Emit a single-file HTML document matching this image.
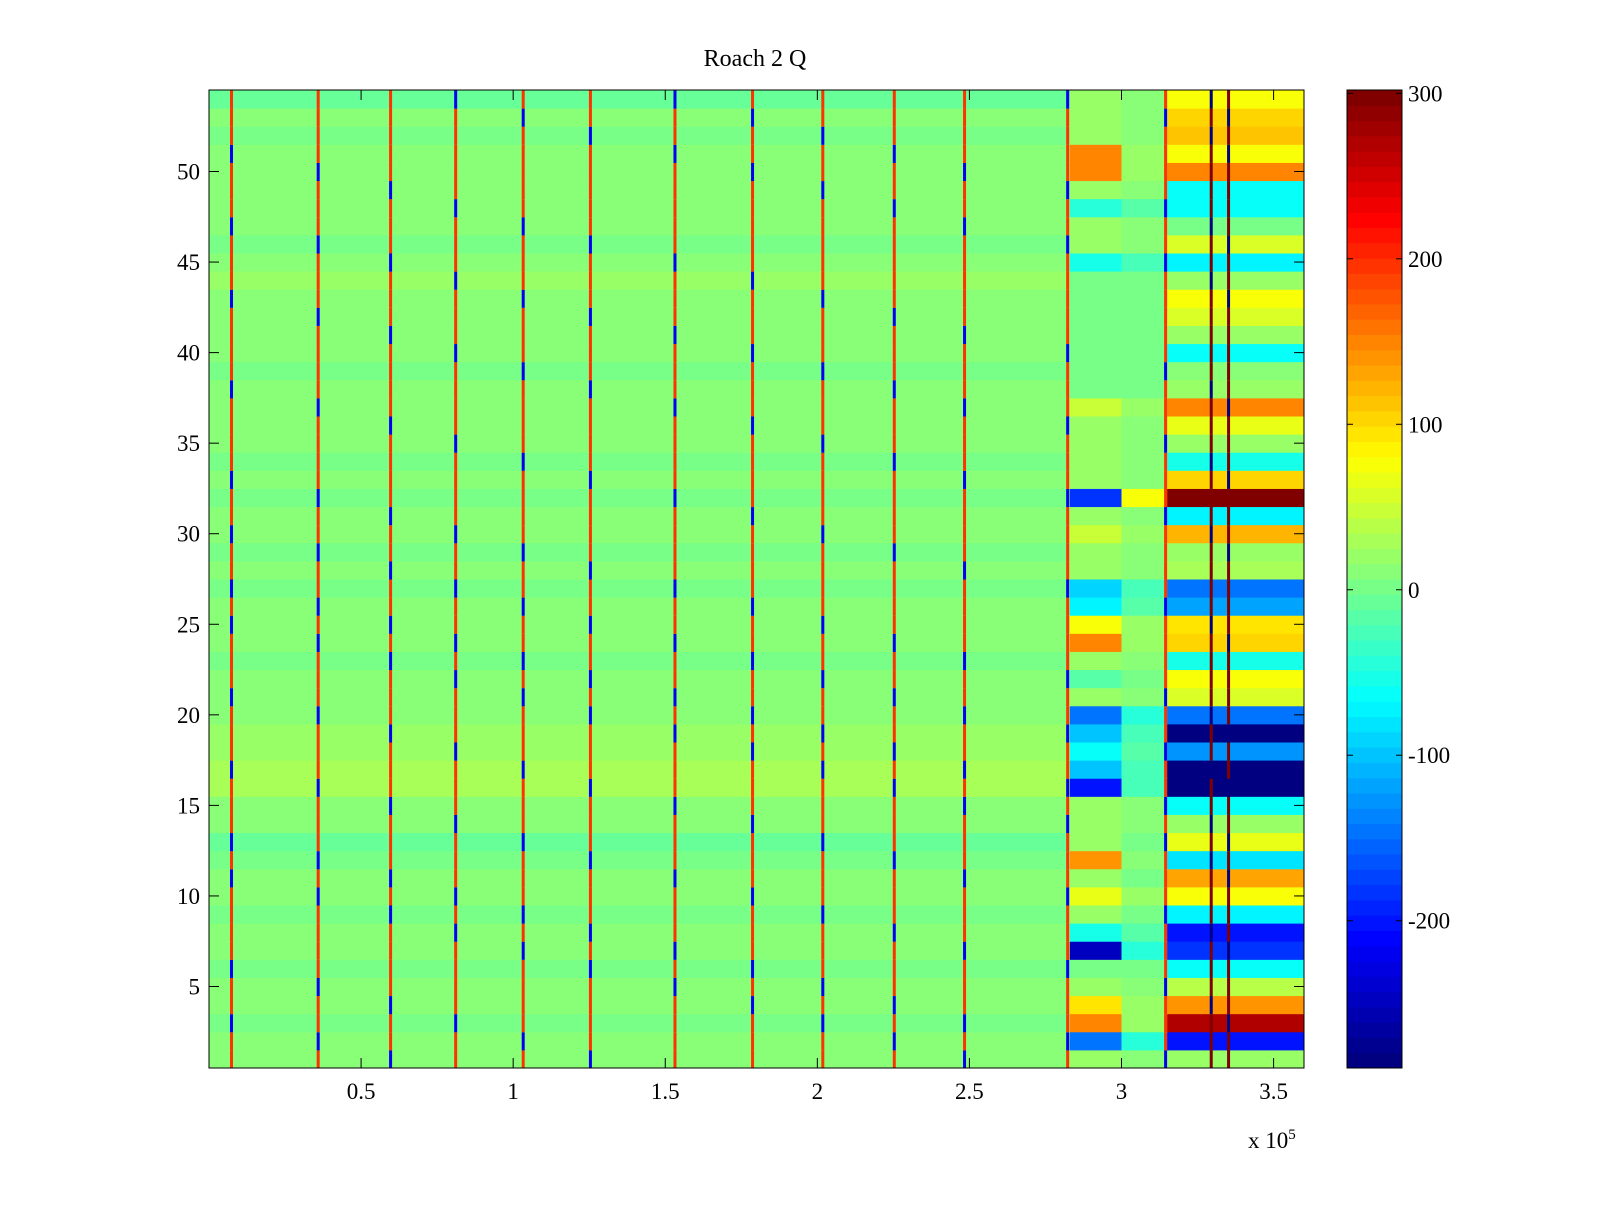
<!DOCTYPE html>
<html><head><meta charset="utf-8"><style>
html,body{margin:0;padding:0;background:#fff;}
svg text{font-family:"Liberation Serif",serif;fill:#000;}
</style></head><body>
<svg id="chart" width="1600" height="1200" viewBox="0 0 1600 1200" xmlns="http://www.w3.org/2000/svg">
<text x="755" y="66" font-size="24" text-anchor="middle">Roach 2 Q</text>
<g id="cells"></g>
<g id="axes"></g>
<g id="cbar"></g>
</svg>
<script>
// rows 1..54 (index 0 = row 1)
const baseRow = [10,12,5,10,12,0,8,10,0,12,8,0,-5,8,15,28,28,22,22,15,12,8,0,8,8,12,5,8,0,8,12,5,8,5,8,8,12,8,0,8,8,12,15,20,15,5,12,8,15,12,8,0,8,-10];
const region2 = [20,-150,150,90,20,0,-250,-50,20,70,20,140,20,20,20,-200,-100,-60,-100,-150,20,-20,20,150,80,-70,-90,20,20,50,20,-180,20,20,20,20,50,0,0,0,0,0,0,0,-50,20,20,-40,20,150,150,20,20,20];
const regionMid = [10,-40,20,20,10,0,-40,-20,0,20,0,10,0,10,10,-30,-30,-20,-30,-40,10,0,10,20,20,-20,-30,10,10,20,10,80,10,10,10,10,20,0,0,0,0,0,0,0,-30,10,10,-20,10,20,20,10,10,10];
const region3 = [20,-200,270,140,40,-60,-180,-200,-70,80,130,-80,70,20,-60,-280,-280,-130,-280,-150,60,80,-50,100,90,-120,-150,30,20,120,-70,300,100,-50,20,70,150,20,10,-60,20,60,80,20,-70,60,0,-60,-60,150,80,110,100,80];
const stripeX = [0.074,0.359,0.597,0.811,1.033,1.254,1.532,1.787,2.018,2.253,2.484,2.823,3.145,3.295,3.352];
const stripeSign = [1,1,-1,1,1,-1,1,1,1,1,-1,1,-1,1,1,1,-1,1,1,1,-1,1,1,1,-1,1,-1,1,1,-1,1,1,-1,1,1,1,1,-1,1,1,1,1,-1,1,1,1,-1,1,1,1,-1,1,1,1];
const xTicks = [0.5,1,1.5,2,2.5,3,3.5];
const yTicks = [5,10,15,20,25,30,35,40,45,50];
const cTicks = [-200,-100,0,100,200,300];

const L=209,R=1304,T=90,B=1068, X0=0,X1=3.6, Y0=0.5,Y1=54.5, CMIN=-289, CMAX=302;
const xs=v=>L+(v-X0)/(X1-X0)*(R-L);
const ys=v=>B-(v-Y0)/(Y1-Y0)*(B-T);
function jet(t){t=Math.max(0,Math.min(1,t));
 const f=x=>Math.max(0,Math.min(1,x));
 const r=f(1.5-Math.abs(4*t-3)),g=f(1.5-Math.abs(4*t-2)),b=f(1.5-Math.abs(4*t-1));
 return `rgb(${Math.round(r*255)},${Math.round(g*255)},${Math.round(b*255)})`;}
const col=v=>jet(Math.floor((v-CMIN)/(CMAX-CMIN)*64)/63);
const NS="http://www.w3.org/2000/svg";
function mk(tag,attrs,parent){const e=document.createElementNS(NS,tag);for(const k in attrs)e.setAttribute(k,attrs[k]);parent.appendChild(e);return e;}
const cells=document.getElementById('cells');
for(let i=0;i<54;i++){
 const r=i+1, y1=ys(r+0.5), y2=ys(r-0.5);
 const segs=[[0,2.83,baseRow[i]],[2.83,3.0,region2[i]],[3.0,3.15,regionMid[i]],[3.15,3.6,region3[i]]];
 for(const s of segs){
  const e=mk('rect',{x:xs(s[0]),y:y1,width:xs(s[1])-xs(s[0])+0.5,height:y2-y1+0.5,fill:col(s[2])},cells);
  
  
 }
 stripeX.forEach((sx,j)=>{
  const big=sx>3.2;
  const v=stripeSign[(i+j)%54]>0?(big?300:200):(big?-289:-220);
  const e=mk('rect',{x:xs(sx)-1.5,y:y1,width:3,height:y2-y1+0.5,fill:col(v)},cells);
  
  
 });
}
const ax=document.getElementById('axes');
mk('rect',{x:L,y:T,width:R-L,height:B-T,fill:'none',stroke:'#000','stroke-width':1},ax);
xTicks.forEach(t=>{const x=xs(t);
 mk('line',{x1:x,y1:B,x2:x,y2:B-10,stroke:'#000'},ax);mk('line',{x1:x,y1:T,x2:x,y2:T+10,stroke:'#000'},ax);
 const e=mk('text',{x:x,y:B+31,'font-size':23,'text-anchor':'middle'},ax);e.textContent=t;
 
 });
yTicks.forEach(t=>{const y=ys(t);
 mk('line',{x1:L,y1:y,x2:L+10,y2:y,stroke:'#000'},ax);mk('line',{x1:R,y1:y,x2:R-10,y2:y,stroke:'#000'},ax);
 const e=mk('text',{x:L-9,y:y+8,'font-size':23,'text-anchor':'end'},ax);e.textContent=t;
 
 });
const ex=mk('text',{x:1248,y:1148,'font-size':23},ax);ex.innerHTML='x 10<tspan dy="-9" font-size="15">5</tspan>';


const cb=document.getElementById('cbar');
const CL=1347,CR=1402;
for(let k=0;k<64;k++){const y1=B-(k+1)/64*(B-T),y2=B-k/64*(B-T);
 mk('rect',{x:CL,y:y1,width:CR-CL,height:y2-y1+0.5,fill:jet(k/63)},cb);}
mk('rect',{x:CL,y:T,width:CR-CL,height:B-T,fill:'none',stroke:'#000'},cb);
cTicks.forEach(t=>{const y=B-(t-CMIN)/(CMAX-CMIN)*(B-T);
 mk('line',{x1:CL,y1:y,x2:CL+6,y2:y,stroke:'#000'},cb);mk('line',{x1:CR,y1:y,x2:CR-6,y2:y,stroke:'#000'},cb);
 const e=mk('text',{x:CR+6,y:y+8,'font-size':23},cb);e.textContent=t;
 
 });
</script>
</body></html>
